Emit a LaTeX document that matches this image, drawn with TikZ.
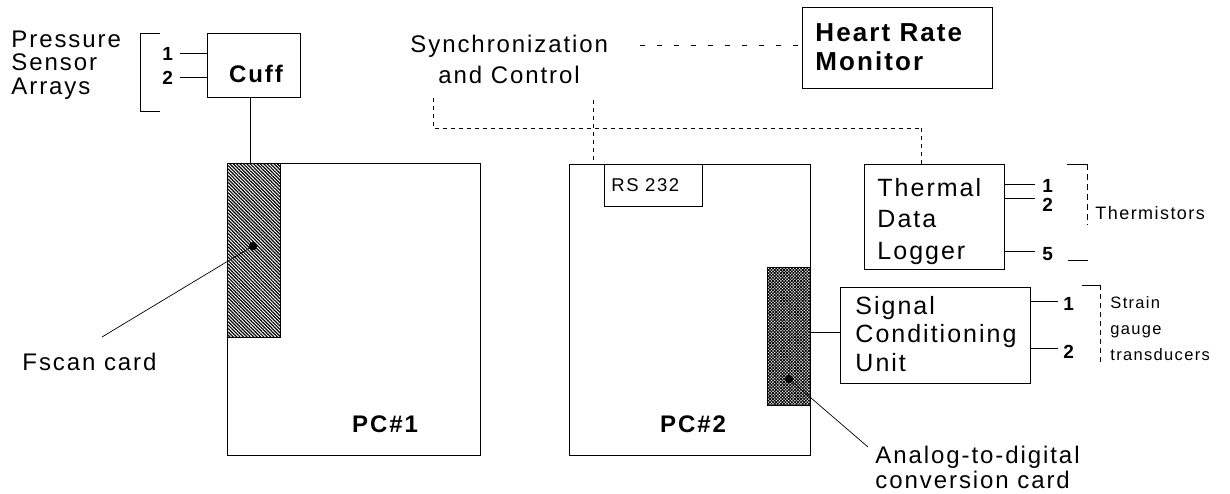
\documentclass[tikz,border=0pt]{standalone}
\usepackage{fontspec}
\setmainfont{Liberation Sans}[LetterSpace=8]
\usetikzlibrary{patterns.meta}
\begin{document}
\begin{tikzpicture}[x=1pt,y=-1pt,line width=0.9pt,
  box/.style={draw,rectangle,inner sep=0pt,anchor=north west},
  txt/.style={inner sep=0pt,anchor=base west,font=\fontsize{24}{28}\selectfont},
  btxt/.style={inner sep=0pt,anchor=base west,font=\fontsize{24}{28}\selectfont\bfseries},
  dig/.style={inner sep=0pt,anchor=base west,font=\fontsize{19}{22}\selectfont\bfseries},
  small/.style={inner sep=0pt,anchor=base west,font=\fontsize{16}{19}\selectfont},
  wire/.style={draw,line width=0.7pt},
  sync/.style={draw,line width=0.8pt,dash pattern=on 5pt off 12pt},
  dotline/.style={draw,line width=0.8pt,dash pattern=on 4pt off 4pt},
  card1/.style={box,pattern={Lines[angle=-45,distance=2.4pt,line width=1.2pt]}},
  card2/.style={box,pattern={Hatch[angle=45,distance=2.2pt,line width=0.8pt]}}]
\useasboundingbox (0,0) rectangle (1230,494);

% ---- left side
\node[txt] (pr1) at (11,48) {Pressure};
\node[txt] (pr2) at (11,71) {Sensor};
\node[txt] (pr3) at (11,95) {Arrays};
\draw[line width=0.8pt] (160,33) -- (140,33) -- (140,111) -- (160,111);
\node[dig] (c1) at (162,61) {1};
\node[dig] (c2) at (162,85) {2};
\node[box,minimum width=93pt,minimum height=64pt] (cuff) at (207,33) {};
\node[btxt,anchor=base] (cufft) at (256,83) {Cuff};
\coordinate (cw1) at (180,53);
\coordinate (cw2) at (180,77);
\draw[wire] (cw1) -- (cw1 -| cuff.west);
\draw[wire] (cw2) -- (cw2 -| cuff.west);

\node[box,minimum width=253pt,minimum height=292pt] (pc1) at (227,163) {};
\node[card1,minimum width=53pt,minimum height=174pt] (fscan) at (227,163) {};
\draw[wire] (cuff.south -| 250,0) -- (pc1.north -| 250,0);
\node[btxt,anchor=base] (pc1t) at (385,432) {PC\#1};
\node[circle,fill=black,inner sep=0pt,minimum size=8pt] (fdot) at (253,246) {};
\coordinate (fend) at (102,337);
\draw[wire] (fdot) -- (fend);
\node[txt] (fscant) at (22,370) {Fscan card};

% ---- synchronization
\node[txt] (sy1) at (410,53) {Synchronization};
\node[txt,anchor=base] (sy2) at (509,84) {and Control};
\node[box,minimum width=190pt,minimum height=81pt] (hrm) at (802,7) {};
\node[btxt,font=\fontsize{26}{30}\selectfont\bfseries] (hr1) at (815,42) {Heart Rate};
\node[btxt,font=\fontsize{26}{30}\selectfont\bfseries] (hr2) at (815,71) {Monitor};
\coordinate (s0) at (640,45);
\draw[sync] (s0) -- (s0 -| hrm.west);

\coordinate (d0) at (433,98);
\coordinate (d1) at (433,128);
\coordinate (d2) at (921,128);
\coordinate (d3) at (593,100);
\draw[dotline] (d0) -- (d1) -- (d2);
\draw[dotline] (d3) -- (593,164);

% ---- PC#2
\node[box,minimum width=241pt,minimum height=291pt] (pc2) at (569,164) {};
\node[box,minimum width=98pt,minimum height=42pt] (rs) at (604,164) {};
\node[small,font=\fontsize{18.5}{21}\selectfont] (rst) at (611,192) {RS 232};
\node[btxt,anchor=base] (pc2t) at (693,432) {PC\#2};
\node[card2,minimum width=43pt,minimum height=138pt] (adc) at (767,267) {};
\node[circle,fill=black,inner sep=0pt,minimum size=8pt] (adot) at (789,379) {};
\coordinate (aend) at (868,447);
\draw[wire] (adot) -- (aend);
\node[txt] (ad1) at (875,463) {Analog-to-digital};
\node[txt] (ad2) at (875,488) {conversion card};

% ---- thermal data logger
\node[box,minimum width=140pt,minimum height=105pt] (tdl) at (864,164) {};
\draw[dotline] (d2) -- (d2 |- tdl.north);
\node[txt,font=\fontsize{25}{29}\selectfont] (th1) at (877,197) {Thermal};
\node[txt,font=\fontsize{25}{29}\selectfont] (th2) at (877,228) {Data};
\node[txt,font=\fontsize{25}{29}\selectfont] (th3) at (877,259) {Logger};
\coordinate (tw1) at (1035,184);
\coordinate (tw2) at (1035,198);
\coordinate (tw5) at (1035,251);
\draw[wire] (tw1 -| tdl.east) -- (tw1);
\draw[wire] (tw2 -| tdl.east) -- (tw2);
\draw[wire] (tw5 -| tdl.east) -- (tw5);
\node[dig] (t1) at (1042,193) {1};
\node[dig] (t2) at (1042,212) {2};
\node[dig] (t5) at (1042,260) {5};
\draw[line width=0.7pt] (1067,164) -- (1087,164);
\draw[line width=0.7pt,dash pattern=on 6pt off 4pt] (1087,164) -- (1087,225);
\draw[line width=0.7pt] (1068,260) -- (1088,260);
\node[small,font=\fontsize{18}{21}\selectfont] (thm) at (1095,219) {Thermistors};

% ---- signal conditioning unit
\node[box,minimum width=190pt,minimum height=96pt] (scu) at (840,287) {};
\draw[wire] (adc.east |- 0,332) -- (scu.west |- 0,332);
\node[txt,font=\fontsize{25}{29}\selectfont] (sc1) at (855,314) {Signal};
\node[txt,font=\fontsize{25}{29}\selectfont] (sc2) at (855,342) {Conditioning};
\node[txt,font=\fontsize{25}{29}\selectfont] (sc3) at (855,371) {Unit};
\coordinate (sw1) at (1058,301);
\coordinate (sw2) at (1058,348);
\draw[wire] (sw1 -| scu.east) -- (sw1);
\draw[wire] (sw2 -| scu.east) -- (sw2);
\node[dig] (s1) at (1063,310) {1};
\node[dig] (s2) at (1063,358) {2};
\draw[line width=0.7pt] (1082,285) -- (1100,285);
\draw[line width=0.7pt,dash pattern=on 5pt off 4pt] (1100,285) -- (1100,365);
\node[small,font=\fontsize{16.5}{19}\selectfont] (st1) at (1110,308) {Strain};
\node[small,font=\fontsize{16.5}{19}\selectfont] (st2) at (1110,334) {gauge};
\node[small,font=\fontsize{16.5}{19}\selectfont] (st3) at (1110,360) {transducers};
\end{tikzpicture}
\end{document}
